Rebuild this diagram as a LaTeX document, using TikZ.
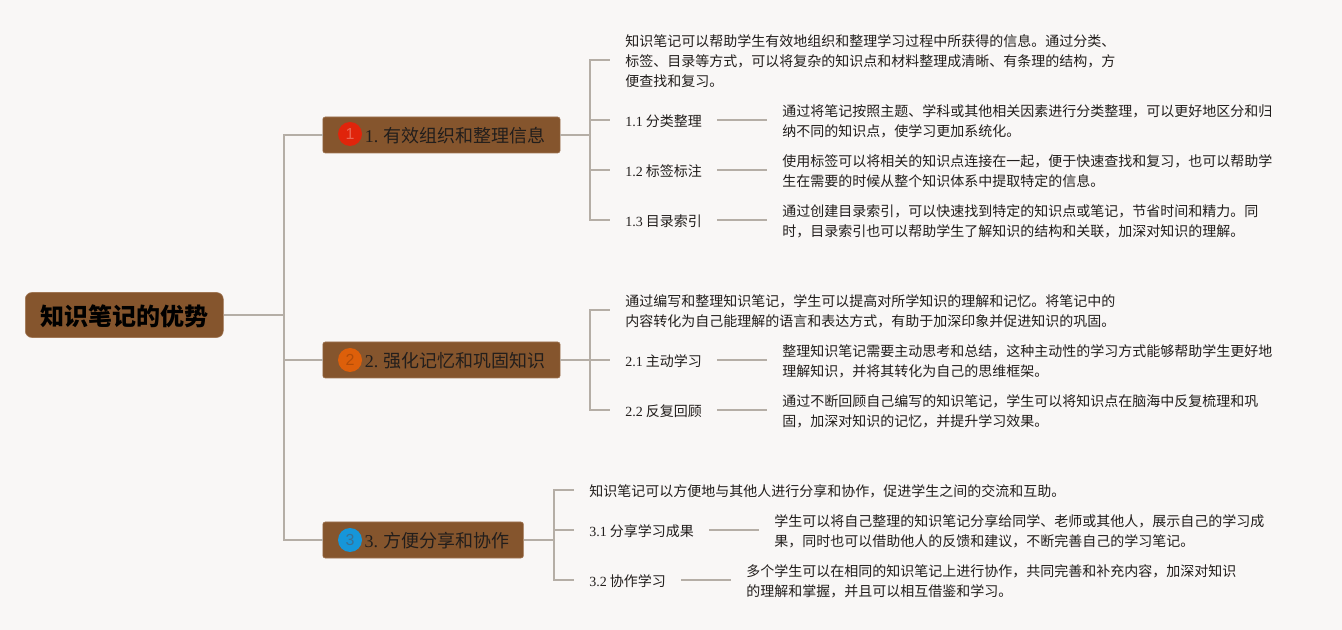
\documentclass[tikz,border=0pt]{standalone}
\usepackage{fontspec}
\setmainfont{Liberation Serif}
\newfontfamily\cjkfont{Noto Sans CJK SC}
\newfontfamily\iconfont{Liberation Sans}
\usetikzlibrary{positioning}
\definecolor{pagebg}{RGB}{249, 247, 246}
\definecolor{barkbrown}{RGB}{133, 85, 45}
\definecolor{barkedge}{RGB}{160, 118, 84}
\definecolor{linkgray}{RGB}{181, 174, 166}
\definecolor{inkdark}{RGB}{34, 30, 28}
\definecolor{badgered}{RGB}{224, 36, 11}
\definecolor{badgeorange}{RGB}{221, 95, 10}
\definecolor{badgeblue}{RGB}{22, 150, 217}
\definecolor{digitblue}{RGB}{58, 112, 148}
\newcommand{\secnum}[1]{{\rmfamily #1}}
\newcommand{\topfix}{\rule{0pt}{10.8pt}}

\begin{document}
\begin{tikzpicture}[x=0.75pt, y=-0.75pt,
    link/.style={linkgray, line width=1.5pt},
    rootbox/.style={fill=barkbrown, draw=barkedge, line width=0.4pt, rounded corners=5pt, anchor=west, minimum width=148.5pt, minimum height=33.75pt, inner sep=0pt, text=black, font=\cjkfont\bfseries\fontsize{18}{22}\selectfont, execute at begin node={\rule{0pt}{17.5pt}}},
    branchbox/.style={fill=barkbrown, draw=barkedge, line width=0.4pt, rounded corners=1.8pt, anchor=west, minimum height=27pt, inner sep=0pt, text=inkdark, font=\cjkfont\fontsize{13.5}{18}\selectfont, execute at begin node={\rule{0pt}{12.7pt}}},
    badge/.style={circle, minimum size=18pt, inner sep=0pt, font=\iconfont\fontsize{12}{14}\selectfont},
    leaf/.style={anchor=west, align=left, inner xsep=11.25pt, inner ysep=0pt, text=inkdark, font=\cjkfont\fontsize{10.5}{15}\selectfont}]
    \fill[pagebg] (0,0) rectangle (1342,630);

    \node[rootbox] (root) at (25,315) {知识笔记的优势};

    \node[branchbox, minimum width=178pt] (branch1) at (322.5,135) {\hspace*{21pt}\secnum{1.} 有效组织和整理信息};
    \node[branchbox, minimum width=178pt] (branch2) at (322.5,360) {\hspace*{21pt}\secnum{2.} 强化记忆和巩固知识};
    \node[branchbox, minimum width=150.5pt] (branch3) at (322.5,540) {\hspace*{21pt}\secnum{3.} 方便分享和协作};

    \node[badge, fill=badgered, text=badgered!70!white] (badge1) at (350,134) {1};
    \node[badge, fill=badgeorange, text=badgeorange!80!black] (badge2) at (350,360) {2};
    \node[badge, fill=badgeblue, text=digitblue] (badge3) at (350,540) {3};

    \node[leaf] (para1) at (610,60) {\topfix 知识笔记可以帮助学生有效地组织和整理学习过程中所获得的信息。通过分类、\\标签、目录等方式，可以将复杂的知识点和材料整理成清晰、有条理的结构，方\\便查找和复习。};
    \node[leaf] (label11) at (610,120) {\topfix\secnum{1.1} 分类整理};
    \node[leaf] (label12) at (610,170) {\topfix\secnum{1.2} 标签标注};
    \node[leaf] (label13) at (610,220) {\topfix\secnum{1.3} 目录索引};
    \node[leaf] (desc11) at (767,120) {\topfix 通过将笔记按照主题、学科或其他相关因素进行分类整理，可以更好地区分和归\\纳不同的知识点，使学习更加系统化。};
    \node[leaf] (desc12) at (767,170) {\topfix 使用标签可以将相关的知识点连接在一起，便于快速查找和复习，也可以帮助学\\生在需要的时候从整个知识体系中提取特定的信息。};
    \node[leaf] (desc13) at (767,220) {\topfix 通过创建目录索引，可以快速找到特定的知识点或笔记，节省时间和精力。同\\时，目录索引也可以帮助学生了解知识的结构和关联，加深对知识的理解。};

    \node[leaf] (para2) at (610,310) {\topfix 通过编写和整理知识笔记，学生可以提高对所学知识的理解和记忆。将笔记中的\\内容转化为自己能理解的语言和表达方式，有助于加深印象并促进知识的巩固。};
    \node[leaf] (label21) at (610,360) {\topfix\secnum{2.1} 主动学习};
    \node[leaf] (label22) at (610,410) {\topfix\secnum{2.2} 反复回顾};
    \node[leaf] (desc21) at (767,360) {\topfix 整理知识笔记需要主动思考和总结，这种主动性的学习方式能够帮助学生更好地\\理解知识，并将其转化为自己的思维框架。};
    \node[leaf] (desc22) at (767,410) {\topfix 通过不断回顾自己编写的知识笔记，学生可以将知识点在脑海中反复梳理和巩\\固，加深对知识的记忆，并提升学习效果。};

    \node[leaf] (para3) at (574,490) {\topfix 知识笔记可以方便地与其他人进行分享和协作，促进学生之间的交流和互助。};
    \node[leaf] (label31) at (574,530) {\topfix\secnum{3.1} 分享学习成果};
    \node[leaf] (label32) at (574,580) {\topfix\secnum{3.2} 协作学习};
    \node[leaf] (desc31) at (759,530) {\topfix 学生可以将自己整理的知识笔记分享给同学、老师或其他人，展示自己的学习成\\果，同时也可以借助他人的反馈和建议，不断完善自己的学习笔记。};
    \node[leaf] (desc32) at (731,580) {\topfix 多个学生可以在相同的知识笔记上进行协作，共同完善和补充内容，加深对知识\\的理解和掌握，并且可以相互借鉴和学习。};

    \draw[link] (root.east) -- ++(60,0) |- (branch1.west);
    \draw[link] (root.east) -- ++(60,0) |- (branch2.west);
    \draw[link] (root.east) -- ++(60,0) |- (branch3.west);

    \draw[link] (branch1.east) -- ++(30,0) |- (para1.west);
    \draw[link] (branch1.east) -- ++(30,0) |- (label11.west);
    \draw[link] (branch1.east) -- ++(30,0) |- (label12.west);
    \draw[link] (branch1.east) -- ++(30,0) |- (label13.west);
    \draw[link] (label11.east) -- (desc11.west);
    \draw[link] (label12.east) -- (desc12.west);
    \draw[link] (label13.east) -- (desc13.west);

    \draw[link] (branch2.east) -- ++(30,0) |- (para2.west);
    \draw[link] (branch2.east) -- ++(30,0) |- (label21.west);
    \draw[link] (branch2.east) -- ++(30,0) |- (label22.west);
    \draw[link] (label21.east) -- (desc21.west);
    \draw[link] (label22.east) -- (desc22.west);

    \draw[link] (branch3.east) -- ++(30,0) |- (para3.west);
    \draw[link] (branch3.east) -- ++(30,0) |- (label31.west);
    \draw[link] (branch3.east) -- ++(30,0) |- (label32.west);
    \draw[link] (label31.east) -- (desc31.west);
    \draw[link] (label32.east) -- (desc32.west);
\end{tikzpicture}
\end{document}
